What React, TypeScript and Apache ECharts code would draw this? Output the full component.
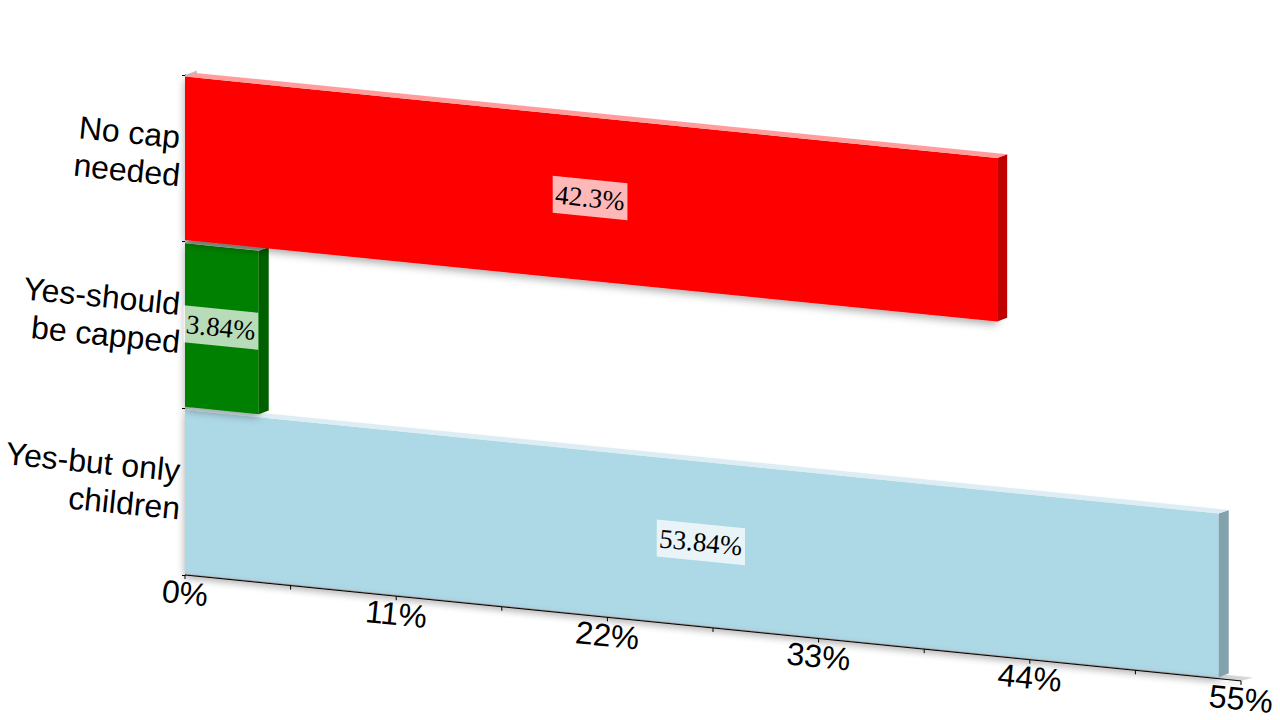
import React, { useEffect, useRef } from "react";
import * as echarts from "echarts";

const categories = ["Yes-but only\nchildren", "Yes-should\nbe capped", "No cap\nneeded"];
const values = [53.84, 3.84, 42.3];
const frontColors = ["#add8e6", "#008000", "#ff0000"];
const sideColors = ["#82a2ad", "#006000", "#bf0000"];
const topColors = ["#dcedf3", "#9aa79a", "#ff9c9c"];
const xTicks = [0, 11, 22, 33, 44, 55];
const xMinorTicks = [5.5, 16.5, 27.5, 38.5, 49.5];

const SLOPE = 0.1003;
const LEFT = 185;
const ROT = -Math.atan(SLOPE);
const DX = 10;
const DY = -3.7;
const sans = "'Liberation Sans', Arial, sans-serif";
const serif = "'Liberation Serif', 'Times New Roman', serif";

const shear = (p: number[]) => [p[0], p[1] + (p[0] - LEFT) * SLOPE];
const poly = (pts: number[][], style: any) => ({
  type: "polygon",
  shape: { points: pts.map(shear) },
  style,
});

export default function App() {
  const ref = useRef<HTMLDivElement>(null);
  useEffect(() => {
    const chart = echarts.init(ref.current!, null, { renderer: "svg" });
    chart.setOption({
      animation: false,
      backgroundColor: "#ffffff",
      grid: { left: LEFT, top: 75, width: 1056, height: 500, containLabel: false },
      xAxis: { type: "value", min: 0, max: 55, interval: 11, show: false },
      yAxis: {
        type: "category",
        data: categories,
        axisLine: { show: true, lineStyle: { color: "#000", width: 1 } },
        axisTick: { show: true, length: 3, lineStyle: { color: "#000", width: 1 } },
        axisLabel: { show: false },
        splitLine: { show: false },
      },
      series: [
        {
          // walls behind the bars
          type: "custom",
          silent: true,
          z: 1,
          data: [[0, 0]],
          encode: { x: 0, y: 1 },
          renderItem: (_p: any, api: any) => {
            const band = api.size([0, 1])[1];
            const y0 = api.coord([0, 0])[1] + band / 2;
            const yTop = api.coord([0, 2])[1] - band / 2;
            const x0 = api.coord([0, 0])[0];
            const x1 = api.coord([55, 0])[0];
            const W = 12;
            const H = -4.5;
            const wall = "#c4c4c4";
            const floor = "#d8d8d8";
            return {
              type: "group",
              children: [
                {
                  type: "polygon",
                  shape: { points: [[x0, yTop], [x0 + W, yTop + H], [x0 + W, y0 + H], [x0, y0]] },
                  style: { fill: wall },
                },
                poly([[x0, y0], [x1, y0], [x1 + W, y0 + H], [x0 + W, y0 + H]], { fill: floor }),
              ],
            };
          },
        },
        {
          type: "custom",
          name: "Share",
          z: 2,
          data: values.map((v, i) => [v, i]),
          encode: { x: 0, y: 1 },
          renderItem: (_p: any, api: any) => {
            const i = api.value(1);
            const v = api.value(0);
            const band = api.size([0, 1])[1];
            const c = api.coord([v, i]);
            const x0 = api.coord([0, i])[0];
            const inset = band * 0.0095;
            const top = c[1] - band / 2 + inset;
            const bot = c[1] + band / 2 - inset;
            const x1 = c[0];
            return {
              type: "group",
              children: [
                poly([[x0, top], [x1, top], [x1, bot], [x0, bot]], {
                  fill: frontColors[i],
                  shadowBlur: 8,
                  shadowColor: "rgba(0,0,0,0.35)",
                  shadowOffsetY: 3,
                }),
                {
                  type: "polygon",
                  shape: {
                    points: [
                      shear([x1, top]),
                      [shear([x1, top])[0] + DX, shear([x1, top])[1] + DY],
                      [shear([x1, bot])[0] + DX, shear([x1, bot])[1] + DY],
                      shear([x1, bot]),
                    ],
                  },
                  style: { fill: sideColors[i] },
                },
                {
                  type: "polygon",
                  shape: {
                    points: [
                      shear([x0, top]),
                      shear([x1, top]),
                      [shear([x1, top])[0] + DX, shear([x1, top])[1] + DY],
                      [shear([x0, top])[0] + DX, shear([x0, top])[1] + DY],
                    ],
                  },
                  style: { fill: topColors[i] },
                },
              ],
            };
          },
        },
        {
          // data labels
          type: "custom",
          z: 4,
          data: values.map((v, i) => [v, i]),
          encode: { x: 0, y: 1 },
          renderItem: (_p: any, api: any) => {
            const i = api.value(1);
            const v = api.value(0);
            const raw = api.coord([v / 2, i]);
            const mid = [raw[0] - 1, raw[1] - 1];
            const text = `${v}%`;
            const charW = [...text].reduce(
              (s, ch) => s + (ch === "%" ? 0.833 : ch === "." ? 0.25 : 0.5),
              0,
            );
            const half = (charW * 27 + 5) / 2;
            const hh = 18.5;
            const [sx, sy] = shear(mid);
            return {
              type: "group",
              children: [
                poly(
                  [
                    [mid[0] - half, mid[1] - hh],
                    [mid[0] + half, mid[1] - hh],
                    [mid[0] + half, mid[1] + hh],
                    [mid[0] - half, mid[1] + hh],
                  ],
                  { fill: "rgba(255,255,255,0.72)" },
                ),
                {
                  type: "text",
                  x: sx,
                  y: sy,
                  rotation: ROT,
                  style: {
                    text,
                    fill: "#000",
                    align: "center",
                    verticalAlign: "middle",
                    fontSize: 27,
                    fontFamily: serif,
                  },
                },
              ],
            };
          },
        },
        {
          // category labels, one text per line
          type: "custom",
          z: 4,
          data: categories.map((_c, i) => [0, i]),
          encode: { x: 0, y: 1 },
          renderItem: (_p: any, api: any) => {
            const i = api.value(1);
            const c = api.coord([0, i]);
            const lines = categories[i].split("\n");
            return {
              type: "group",
              children: lines.map((line, k) => ({
                type: "text",
                x: c[0] - 5,
                y: c[1] - 2 + (k - (lines.length - 1) / 2) * 38,
                rotation: ROT,
                style: {
                  text: line,
                  fill: "#000",
                  align: "right",
                  verticalAlign: "middle",
                  fontSize: 32,
                  fontFamily: sans,
                },
              })),
            };
          },
        },
        {
          // sheared value axis: line and major ticks with labels
          type: "custom",
          z: 5,
          data: xTicks.map((v) => [v, 0]),
          encode: { x: 0, y: 1 },
          renderItem: (p: any, api: any) => {
            const v = api.value(0);
            const band = api.size([0, 1])[1];
            const c = api.coord([v, 0]);
            const yb = c[1] + band / 2;
            const [sx, sy] = shear([c[0], yb]);
            const children: any[] = [
              { type: "line", shape: { x1: sx, y1: sy, x2: sx, y2: sy + 4 }, style: { stroke: "#000", lineWidth: 1 } },
              {
                type: "text",
                x: sx,
                y: sy + 18,
                rotation: ROT,
                style: {
                  text: `${v}%`,
                  fill: "#000",
                  align: "center",
                  verticalAlign: "middle",
                  fontSize: 32,
                  fontFamily: sans,
                },
              },
            ];
            if (p.dataIndex === 0) {
              const e = api.coord([55, 0]);
              const [ex, ey] = shear([e[0], yb]);
              children.unshift({
                type: "line",
                shape: { x1: sx, y1: sy, x2: ex, y2: ey },
                style: {
                  stroke: "#000",
                  lineWidth: 1,
                  shadowBlur: 6,
                  shadowColor: "rgba(0,0,0,0.35)",
                  shadowOffsetY: 2,
                },
              });
            }
            return { type: "group", children };
          },
        },
        {
          // sheared value axis: minor ticks
          type: "custom",
          z: 5,
          data: xMinorTicks.map((v) => [v, 0]),
          encode: { x: 0, y: 1 },
          renderItem: (_p: any, api: any) => {
            const band = api.size([0, 1])[1];
            const c = api.coord([api.value(0), 0]);
            const [sx, sy] = shear([c[0], c[1] + band / 2]);
            return { type: "line", shape: { x1: sx, y1: sy, x2: sx, y2: sy + 4 }, style: { stroke: "#000", lineWidth: 1 } };
          },
        },
      ],
    });
    return () => chart.dispose();
  }, []);
  return (
    <div
      ref={ref}
      style={{ position: "fixed", left: 0, top: 0, width: 1280, height: 720, background: "#fff" }}
    />
  );
}
